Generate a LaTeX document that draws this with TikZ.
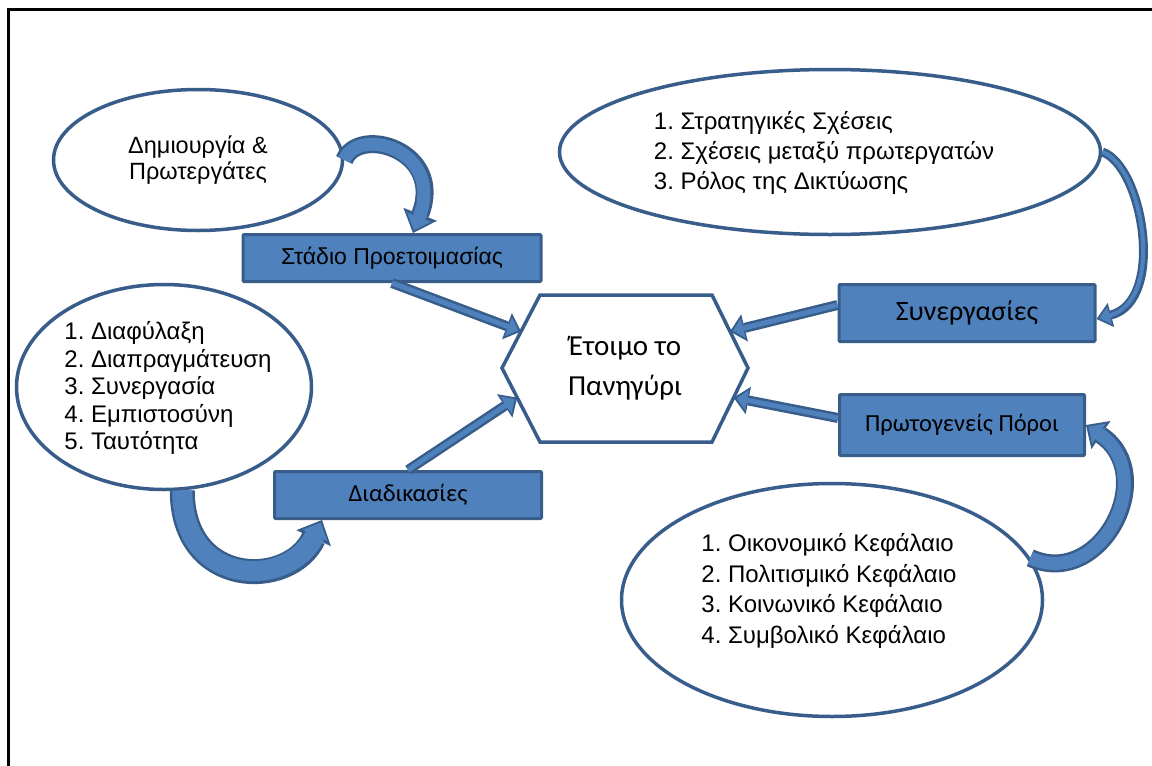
\documentclass[tikz,border=0pt]{standalone}
\usepackage{fontspec}
\setmainfont{Liberation Sans}
\newfontfamily\calibri{Carlito}
\usetikzlibrary{arrows.meta,calc,shapes.geometric}
\frenchspacing

\definecolor{boxblue}{HTML}{4F81BD}
\definecolor{edgeblue}{HTML}{385D8A}

\tikzset{
  bubble/.style={ellipse, draw=edgeblue, line width=3.5pt, fill=white, inner sep=0pt},
  stagebox/.style={rectangle, draw=edgeblue, line width=3pt, fill=boxblue, inner sep=0pt, rounded corners=1pt},
  listtext/.style={align=left, font=\fontsize{24}{#1}\selectfont},
  flowarrow/.style n args={3}{draw=edgeblue, line width=#1pt,
    -{Triangle[length=#2pt, width=#3pt, line width=0pt]},
    postaction={draw=boxblue, line width=#1pt-5pt, shorten >=3pt,
      -{Triangle[length=#2pt, width=#3pt, line width=0pt, scale length=0.7, scale width=0.72]}}},
}

\begin{document}
\begin{tikzpicture}[x=1pt, y=-1pt]
			\useasboundingbox (0,0) rectangle (1152,766);

			% Frame
			\draw[line width=2.5pt] (8.5,766) -- (8.5,9.5) -- (1152,9.5);

			% Ellipses
			\node[bubble, minimum width=289pt, minimum height=141pt, align=center,
				font=\fontsize{23.5}{26}\selectfont] (founders) at (198,160) {Δημιουργία \&\\Πρωτεργάτες};
			\node[bubble, minimum width=295pt, minimum height=205pt] (process) at (164,387) {};
			\node[listtext=27.5] (processlist) at (168,388) {1. Διαφύλαξη\\2. Διαπραγμάτευση\\3. Συνεργασία\\4. Εμπιστοσύνη\\5. Ταυτότητα};
			\node[bubble, minimum width=541pt, minimum height=165pt] (network) at (830,152) {};
			\node[listtext=30] (networklist) at (824,153) {1. Στρατηγικές Σχέσεις\\2. Σχέσεις μεταξύ πρωτεργατών\\3. Ρόλος της Δικτύωσης};
			\node[bubble, minimum width=421pt, minimum height=233pt] (capital) at (832,600) {};
			\node[listtext=30.5] (capitallist) at (829,591) {1. Οικονομικό Κεφάλαιο\\2. Πολιτισμικό Κεφάλαιο\\3. Κοινωνικό Κεφάλαιο\\4. Συμβολικό Κεφάλαιο};

			% Boxes
			\node[stagebox, minimum width=298pt, minimum height=47pt, font=\fontsize{23}{26}\selectfont] (prep) at (392,258) {Στάδιο Προετοιμασίας};
			\node[stagebox, minimum width=267pt, minimum height=47pt, font=\calibri\fontsize{24.5}{28}\selectfont] (procbox) at (408,495) {Διαδικασίες};
			\node[stagebox, minimum width=256pt, minimum height=57pt, font=\calibri\fontsize{28}{32}\selectfont] (coop) at (967,313) {Συνεργασίες};
			\node[stagebox, minimum width=245pt, minimum height=61pt, font=\calibri\fontsize{24.5}{28}\selectfont] (resources) at (962,425) {Πρωτογενείς Πόροι};

			% Hexagon
			\coordinate (hexW) at (502,368);
			\coordinate (hexNW) at (540,295);
			\coordinate (hexNE) at (712,295);
			\coordinate (hexE) at (748,368);
			\coordinate (hexSE) at (712,442);
			\coordinate (hexSW) at (540,442);
			\draw[edgeblue, line width=3.5pt, fill=white, line join=miter] (hexW) -- (hexNW) -- (hexNE) -- (hexE) -- (hexSE) -- (hexSW) -- cycle;
			\node[align=center, font=\calibri\fontsize{29}{40}\selectfont] (goal) at (625,368) {Έτοιμο το\\Πανηγύρι};

			\coordinate (inNW) at ($(hexW)!0.5!(hexNW)$);
			\coordinate (inSW) at ($(hexW)!0.4!(hexSW)$);
			\coordinate (inNE) at ($(hexE)!0.5!(hexNE)$);
			\coordinate (inSE) at ($(hexE)!0.4!(hexSE)$);

			% Straight arrows into the hexagon
			\draw[flowarrow={10}{15}{28}] (prep.south) -- (inNW);
			\draw[flowarrow={10}{15}{28}] (procbox.north) -- (inSW);
			\draw[flowarrow={10}{15}{28}] ([yshift=8pt]coop.west) -- (inNE);
			\draw[flowarrow={10}{15}{28}] ([yshift=7pt]resources.west) -- (inSE);

			% Curved arrows
			\draw[flowarrow={18}{20}{36}] (founders.east) .. controls +(14,-35) and +(32,-83) .. ([xshift=21pt]prep.north);
			\draw[flowarrow={25}{20}{38}] (process.-80) .. controls +(0,98) and +(-32,69) .. ([xshift=49pt]procbox.south west);
			\draw[flowarrow={9}{15}{25}] (network.east) .. controls +(40,13) and +(70,-19) .. ([yshift=-6pt]coop.east);
			\draw[flowarrow={18}{18}{34}] (capital.12) .. controls +(70,32) and +(74,50) .. (resources.east);

		\end{tikzpicture}
\end{document}
